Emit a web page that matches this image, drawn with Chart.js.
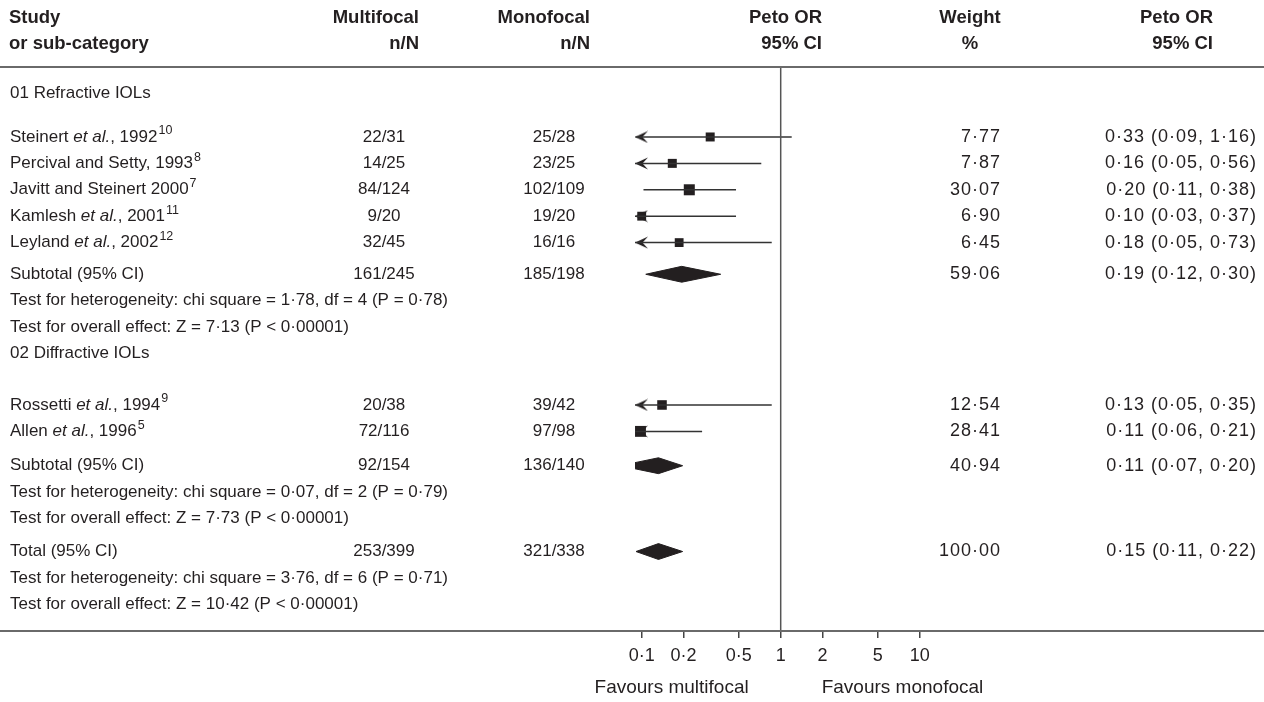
<!DOCTYPE html>
<html>
<head>
<meta charset="utf-8">
<script src="https://cdn.jsdelivr.net/npm/chart.js@4.4.0/dist/chart.umd.min.js"></script>
<style>
  html, body { margin: 0; padding: 0; background: #fff; }
  #wrap { width: 1264px; height: 702px; }
</style>
</head>
<body>
<div id="wrap"><canvas id="grafico" width="1264" height="702"></canvas></div>
<script>
// studies (rows are in "line" units from the top rule)
const studies = [
  "Steinert <i>et al.</i>, 1992<sup>10</sup>",
  "Percival and Setty, 1993<sup>8</sup>",
  "Javitt and Steinert 2000<sup>7</sup>",
  "Kamlesh <i>et al.</i>, 2001<sup>11</sup>",
  "Leyland <i>et al.</i>, 2002<sup>12</sup>",
  "Rossetti <i>et al.</i>, 1994<sup>9</sup>",
  "Allen <i>et al.</i>, 1996<sup>5</sup>"
];
const studyRows = [2.65, 3.65, 4.65, 5.65, 6.65, 12.8, 13.8];
const multifocal = ["22/31", "14/25", "84/124", "9/20", "32/45", "20/38", "72/116"];
const monofocal = ["25/28", "23/25", "102/109", "19/20", "16/16", "39/42", "97/98"];
const weights = [7.77, 7.87, 30.07, 6.90, 6.45, 12.54, 28.41];
const orText = [
  "0·33 (0·09, 1·16)", "0·16 (0·05, 0·56)", "0·20 (0·11, 0·38)", "0·10 (0·03, 0·37)",
  "0·18 (0·05, 0·73)", "0·13 (0·05, 0·35)", "0·11 (0·06, 0·21)"
];
// as drawn in the picture
const orEst = [0.311, 0.166, 0.220, 0.10, 0.186, 0.140, 0.098];
const orLow = [0.09, 0.05, 0.103, 0.03, 0.05, 0.05, 0.06];
const orHigh = [1.20, 0.725, 0.477, 0.477, 0.862, 0.862, 0.272];

const pooledNames = ["Subtotal (95% CI)", "Subtotal (95% CI)", "Total (95% CI)"];
const pooledRows = [7.85, 15.1, 18.35];
const pooledMulti = ["161/245", "92/154", "253/399"];
const pooledMono = ["185/198", "136/140", "321/338"];
const pooledWeight = ["59·06", "40·94", "100·00"];
const pooledText = ["0·19 (0·12, 0·30)", "0·11 (0·07, 0·20)", "0·15 (0·11, 0·22)"];
const pooledEst = [0.194, 0.132, 0.132];
const pooledLow = [0.107, 0.07, 0.091];
const pooledHigh = [0.370, 0.197, 0.197];

const groupNames = ["01 Refractive IOLs", "02 Diffractive IOLs"];
const groupRows = [1.0, 10.85];
const testLines = [
  "Test for heterogeneity: chi square = 1·78, df = 4 (P = 0·78)",
  "Test for overall effect: Z = 7·13 (P < 0·00001)",
  "Test for heterogeneity: chi square = 0·07, df = 2 (P = 0·79)",
  "Test for overall effect: Z = 7·73 (P < 0·00001)",
  "Test for heterogeneity: chi square = 3·76, df = 6 (P = 0·71)",
  "Test for overall effect: Z = 10·42 (P < 0·00001)"
];
const testRows = [8.85, 9.85, 16.1, 17.1, 19.35, 20.35];

const tickValues = [0.1, 0.2, 0.5, 1, 2, 5, 10];
const tickLabels = ["0·1", "0·2", "0·5", "1", "2", "5", "10"];

const INK = "#231f20";
const FONT = '"Liberation Sans", Arial, Helvetica, sans-serif';
const BODY = "17px " + FONT;
const NUM = "18px " + FONT;
const BOLD = "bold 18.5px " + FONT;
const SUP = "12.5px " + FONT;
const ROWS_MAX = 21.36;

// arrow head for CIs that run off the left of the scale
const arrow = document.createElement("canvas");
arrow.width = 28; arrow.height = 13;
(function () {
  const c = arrow.getContext("2d");
  c.fillStyle = INK;
  c.beginPath();
  c.moveTo(14, 6.5); c.lineTo(27, 0.5); c.lineTo(21.5, 6.5); c.lineTo(27, 12.5);
  c.closePath(); c.fill();
})();

function squareSide(w) { return 6.9 + 0.75 * Math.sqrt(w); }

const datasets = [];

// line of no effect
datasets.push({
  data: [{ x: 1, y: 0 }, { x: 1, y: ROWS_MAX }],
  borderColor: "#555", borderWidth: 1.5, pointRadius: 0
});

// confidence intervals
for (let i = 0; i < studies.length; i++) {
  datasets.push({
    data: [{ x: orLow[i], y: studyRows[i] }, { x: orHigh[i], y: studyRows[i] }],
    borderColor: "#333", borderWidth: 1.5, pointRadius: 0
  });
}

// study squares
datasets.push({
  data: orEst.map((v, i) => ({ x: v, y: studyRows[i] })),
  showLine: false,
  pointStyle: "rect",
  pointBackgroundColor: INK,
  pointBorderWidth: 0,
  pointRadius: (ctx) => squareSide(weights[ctx.dataIndex]) / Math.SQRT2
});

// arrows
const arrowPts = [];
for (let i = 0; i < studies.length; i++) {
  if (orLow[i] < tickValues[0]) arrowPts.push({ x: 0.0895, y: studyRows[i] });
}
datasets.push({
  data: arrowPts, showLine: false, pointStyle: arrow, pointRadius: 6, clip: false
});

// pooled diamonds
for (let i = 0; i < pooledNames.length; i++) {
  const r = pooledRows[i], h = 0.3;
  datasets.push({
    data: [
      { x: pooledLow[i], y: r }, { x: pooledEst[i], y: r - h },
      { x: pooledHigh[i], y: r }, { x: pooledEst[i], y: r + h },
      { x: pooledLow[i], y: r }
    ],
    borderColor: INK, borderWidth: 1, backgroundColor: INK,
    fill: "shape", pointRadius: 0, tension: 0
  });
}

function drawRich(ctx, str, x, y) {
  const parts = str.split(/(<i>.*?<\/i>|<sup>.*?<\/sup>)/).filter(s => s);
  let cx = x;
  parts.forEach(p => {
    let text = p, font = BODY, dy = 0;
    if (p.startsWith("<i>")) { text = p.slice(3, -4); font = "italic " + BODY; }
    else if (p.startsWith("<sup>")) { text = p.slice(5, -6); font = SUP; dy = -6; cx += 1; }
    ctx.font = font;
    ctx.fillText(text, cx, y + dy);
    cx += ctx.measureText(text).width;
  });
}

// right hand numbers are set a little wider in the original
function numRight(ctx, text, x, y) {
  ctx.font = NUM;
  ctx.letterSpacing = "1px";
  ctx.textAlign = "right";
  ctx.fillText(text, x + 1, y);
  ctx.letterSpacing = "0px";
  ctx.font = BODY;
}

const tablePlugin = {
  id: "tabela",
  afterDraw(chart) {
    const ctx = chart.ctx;
    const ys = chart.scales.y, xs = chart.scales.x;
    const W = chart.width;
    const top = chart.chartArea.top, bottom = chart.chartArea.bottom;
    ctx.save();

    // rules
    ctx.strokeStyle = "#6a6a6a";
    ctx.lineWidth = 2;
    ctx.beginPath();
    ctx.moveTo(0, top); ctx.lineTo(W, top);
    ctx.moveTo(0, bottom); ctx.lineTo(W, bottom);
    ctx.stroke();

    ctx.fillStyle = INK;
    ctx.textBaseline = "middle";

    // header
    ctx.font = BOLD;
    ctx.textAlign = "left";
    ctx.fillText("Study", 9, 18);
    ctx.fillText("or sub-category", 9, 44);
    ctx.textAlign = "right";
    ctx.fillText("Multifocal", 419, 18);
    ctx.fillText("n/N", 419, 44);
    ctx.fillText("Monofocal", 590, 18);
    ctx.fillText("n/N", 590, 44);
    ctx.fillText("Peto OR", 822, 18);
    ctx.fillText("95% CI", 822, 44);
    ctx.fillText("Peto OR", 1213, 18);
    ctx.fillText("95% CI", 1213, 44);
    ctx.textAlign = "center";
    ctx.fillText("Weight", 970, 18);
    ctx.fillText("%", 970, 44);

    ctx.font = BODY;
    ctx.textAlign = "left";
    groupNames.forEach((g, i) => ctx.fillText(g, 10, ys.getPixelForValue(groupRows[i])));
    testLines.forEach((t, i) => ctx.fillText(t, 10, ys.getPixelForValue(testRows[i])));

    studies.forEach((s, i) => {
      const y = ys.getPixelForValue(studyRows[i]);
      ctx.textAlign = "left";
      drawRich(ctx, s, 10, y);
      ctx.font = BODY;
      ctx.textAlign = "center";
      ctx.fillText(multifocal[i], 384, y);
      ctx.fillText(monofocal[i], 554, y);
      numRight(ctx, weights[i].toFixed(2).replace(".", "·"), 1000, y);
      numRight(ctx, orText[i], 1256, y);
    });

    pooledNames.forEach((s, i) => {
      const y = ys.getPixelForValue(pooledRows[i]);
      ctx.textAlign = "left";
      ctx.fillText(s, 10, y);
      ctx.textAlign = "center";
      ctx.fillText(pooledMulti[i], 384, y);
      ctx.fillText(pooledMono[i], 554, y);
      numRight(ctx, pooledWeight[i], 1000, y);
      numRight(ctx, pooledText[i], 1256, y);
    });

    // favours labels
    const x1 = xs.getPixelForValue(1);
    ctx.font = "19px " + FONT;
    ctx.textAlign = "right";
    ctx.fillText("Favours multifocal", x1 - 32, 688);
    ctx.textAlign = "left";
    ctx.fillText("Favours monofocal", x1 + 41, 688);
    ctx.restore();
  }
};

const grafico = document.getElementById("grafico").getContext("2d");
const chartForest = new Chart(grafico, {
  type: "line",
  data: { datasets: datasets },
  options: {
    responsive: false,
    animation: false,
    devicePixelRatio: 1,
    layout: { padding: { left: 635, right: 338, top: 67, bottom: 0 } },
    plugins: { legend: { display: false }, tooltip: { enabled: false } },
    scales: {
      x: {
        type: "logarithmic",
        min: 0.0895,
        max: 11.1,
        border: { display: false },
        grid: { drawOnChartArea: false, tickLength: 7, color: "#444", lineWidth: 1.5 },
        afterBuildTicks: (scale) => { scale.ticks = tickValues.map(v => ({ value: v })); },
        afterFit: (scale) => { scale.height = 71; },
        ticks: {
          autoSkip: false,
          maxRotation: 0,
          padding: 7,
          color: INK,
          font: { size: 18, family: FONT },
          callback: (v) => {
            const i = tickValues.findIndex(t => Math.abs(t - v) < 1e-9);
            return i >= 0 ? tickLabels[i] : "";
          }
        }
      },
      y: {
        type: "linear",
        display: false,
        reverse: true,
        min: 0,
        max: ROWS_MAX
      }
    }
  },
  plugins: [tablePlugin]
});
</script>
</body>
</html>
